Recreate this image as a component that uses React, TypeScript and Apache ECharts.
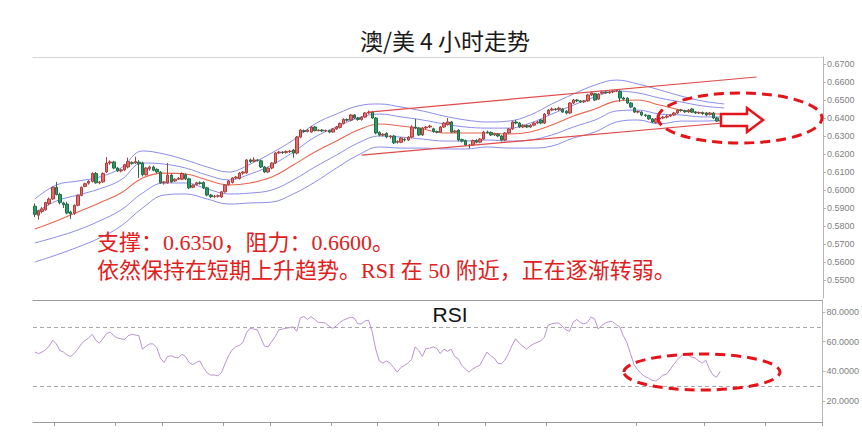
import React, { useEffect, useRef } from "react";
import * as echarts from "echarts";

const W = 862;
const H = 433;

const TITLE = "澳/美 4 小时走势";
const NOTE_1 = "支撑：0.6350，阻力：0.6600。";
const NOTE_2 = "依然保持在短期上升趋势。RSI 在 50 附近，正在逐渐转弱。";
const RSI_TITLE = "RSI";

const SLOT_COUNT = 220;
const CATEGORIES = Array.from({ length: SLOT_COUNT }, (_, i) => String(i));

// 4-hour candles: [open, close, low, high] in pips (price * 10000)
const CANDLES: number[][] = [
  [5910,5865,5850,5925],[5860,5885,5835,5890],[5880,5895,5870,5905],[5890,5930,5885,5935],[5925,5950,5915,5958],
  [5950,6015,5945,6020],[6015,5975,5970,6045],[5975,5930,5920,5985],[5928,5918,5900,5935],[5922,5872,5865,5935],
  [5878,5868,5840,5885],[5870,5915,5862,5920],[5915,5970,5910,5975],[5970,6015,5965,6020],[6020,6035,6015,6040],
  [6038,6048,6030,6055],[6048,6092,6042,6098],[6092,6040,6035,6100],[6040,6045,6032,6050],[6045,6092,6040,6098],
  [6100,6150,6095,6183],[6150,6156,6140,6165],[6156,6122,6115,6162],[6122,6106,6100,6128],[6106,6112,6098,6118],
  [6112,6140,6105,6145],[6128,6158,6120,6180],[6152,6148,6140,6160],[6150,6158,6145,6185],[6155,6145,6067,6165],
  [6150,6085,6075,6158],[6085,6122,6080,6128],[6118,6128,6108,6135],[6128,6110,6104,6135],[6115,6100,6094,6120],
  [6100,6040,6035,6105],[6040,6045,6030,6050],[6040,6083,6035,6150],[6083,6045,6040,6090],[6050,6060,6045,6065],
  [6060,6065,6055,6072],[6060,6092,6055,6098],[6085,6062,6055,6092],[6062,6012,6005,6068],[6015,6026,6010,6032],
  [6030,6040,6025,6045],[6040,6036,6030,6048],[6042,6012,6005,6048],[6012,5972,5965,6018],[5972,5963,5955,5978],
  [5963,5966,5956,5972],[5965,5968,5958,5975],[5962,5990,5955,5995],[5990,6028,5985,6032],[6030,6050,6025,6055],
  [6042,6067,6036,6072],[6067,6072,6060,6078],[6064,6094,6058,6100],[6094,6100,6085,6106],[6095,6167,6090,6172],
  [6167,6158,6150,6175],[6160,6167,6155,6182],[6167,6164,6158,6172],[6162,6128,6122,6168],[6128,6100,6094,6133],
  [6100,6122,6095,6127],[6122,6150,6115,6155],[6150,6206,6145,6210],[6206,6211,6200,6218],[6211,6208,6200,6216],
  [6208,6214,6202,6220],[6214,6216,6206,6222],[6222,6205,6180,6228],[6205,6294,6198,6300],[6294,6333,6288,6338],
  [6330,6325,6318,6336],[6325,6333,6320,6340],[6322,6350,6318,6356],[6350,6330,6325,6356],[6330,6333,6325,6338],
  [6333,6328,6322,6338],[6328,6330,6322,6336],[6330,6322,6315,6335],[6322,6339,6318,6344],[6339,6350,6334,6356],
  [6348,6370,6342,6375],[6370,6392,6365,6398],[6392,6388,6380,6398],[6388,6417,6382,6422],[6417,6400,6395,6422],
  [6400,6392,6385,6406],[6392,6405,6385,6410],[6405,6428,6400,6433],[6428,6433,6420,6442],[6433,6400,6395,6440],
  [6400,6317,6310,6405],[6320,6305,6298,6326],[6305,6310,6298,6316],[6315,6295,6288,6320],[6295,6300,6285,6306],
  [6300,6262,6255,6305],[6265,6270,6258,6276],[6265,6289,6260,6294],[6282,6278,6270,6288],[6278,6294,6272,6300],
  [6294,6350,6288,6360],[6350,6345,6338,6395],[6345,6306,6300,6350],[6306,6345,6300,6350],[6345,6350,6338,6356],
  [6350,6355,6344,6362],[6340,6325,6318,6346],[6325,6322,6315,6330],[6322,6350,6318,6356],[6350,6372,6345,6378],
  [6365,6378,6358,6400],[6378,6322,6316,6384],[6322,6328,6316,6334],[6333,6278,6270,6338],[6280,6272,6265,6286],
  [6275,6250,6244,6280],[6250,6245,6232,6256],[6250,6275,6244,6280],[6275,6266,6260,6282],[6266,6283,6260,6288],
  [6283,6322,6278,6328],[6322,6320,6314,6330],[6320,6306,6300,6326],[6306,6312,6300,6318],[6310,6300,6294,6316],
  [6300,6278,6270,6306],[6278,6317,6272,6322],[6317,6339,6312,6344],[6339,6378,6334,6384],[6378,6372,6365,6390],
  [6372,6350,6344,6378],[6350,6360,6344,6366],[6358,6350,6344,6364],[6350,6360,6344,6366],[6360,6372,6354,6378],
  [6372,6378,6366,6384],[6389,6372,6366,6395],[6372,6422,6366,6428],[6422,6444,6416,6450],[6444,6450,6438,6458],
  [6450,6447,6440,6456],[6447,6455,6440,6462],[6450,6433,6428,6456],[6438,6428,6420,6444],[6428,6483,6422,6488],
  [6483,6500,6478,6506],[6500,6495,6488,6506],[6495,6490,6484,6500],[6490,6495,6484,6500],[6495,6528,6490,6534],
  [6528,6540,6522,6546],[6535,6500,6494,6540],[6505,6533,6500,6538],[6538,6545,6532,6552],[6545,6540,6534,6550],
  [6540,6545,6534,6552],[6545,6550,6538,6556],[6550,6552,6544,6560],[6548,6511,6490,6555],[6511,6505,6498,6518],
  [6510,6483,6478,6516],[6483,6461,6455,6488],[6456,6433,6428,6462],[6433,6436,6426,6442],[6433,6417,6410,6438],
  [6417,6414,6406,6422],[6414,6395,6390,6418],[6395,6378,6372,6400],[6376,6394,6370,6400],[6394,6400,6388,6406],
  [6400,6405,6394,6412],[6405,6411,6398,6418],[6411,6417,6405,6422],[6417,6428,6410,6434],[6428,6444,6422,6450],
  [6444,6442,6435,6450],[6440,6435,6428,6446],[6435,6444,6428,6450],[6450,6433,6428,6456],[6433,6428,6422,6438],
  [6428,6430,6422,6436],[6430,6425,6418,6436],[6428,6417,6410,6434],[6420,6428,6414,6434],[6428,6400,6394,6434],
  [6400,6383,6378,6406],[6383,6385,6375,6392]
];

// Bollinger-style band lines, sampled at candle indices (pips)
const BAND_IDX = [0,6,12,18,24,30,36,42,48,54,60,66,72,78,84,90,96,102,108,114,120,126,132,138,144,150,156,162,168,174,180,186,192];
const BAND_U2 = [5950,6028,6050,6072,6122,6217,6200,6167,6128,6100,6144,6206,6278,6367,6422,6467,6478,6461,6439,6411,6389,6378,6383,6417,6478,6533,6583,6611,6589,6556,6522,6494,6478];
const BAND_U1 = [5872,5939,5972,6006,6056,6150,6144,6122,6083,6056,6089,6139,6211,6294,6350,6400,6422,6406,6389,6367,6350,6344,6344,6372,6422,6472,6517,6550,6539,6511,6489,6467,6456];
const BAND_MID = [5783,5828,5878,5928,5983,6067,6094,6089,6056,6028,6039,6072,6139,6211,6272,6333,6367,6356,6339,6317,6317,6317,6311,6322,6361,6411,6450,6494,6500,6472,6444,6428,6422];
const BAND_L1 = [5706,5739,5778,5828,5889,5983,6039,6039,6006,5978,5983,6000,6056,6128,6194,6261,6300,6294,6283,6272,6272,6278,6272,6278,6306,6350,6389,6439,6444,6422,6417,6406,6406];
const BAND_L2 = [5600,5639,5683,5733,5800,5900,5972,5978,5950,5922,5928,5933,5978,6044,6122,6194,6239,6233,6233,6228,6228,6239,6233,6233,6244,6289,6322,6378,6389,6367,6383,6383,6389];

// Channel trend lines: [candle index, price]
const TREND_UPPER = [[93, 0.6433], [201, 0.6628]];
const TREND_LOWER = [[91, 0.6194], [201, 0.6389]];

// RSI per candle
const RSI = [
  53,52,53,54.5,57,61,58.5,54,53,51,
  50,52,55,58.5,61,62.5,65,61,59,62,
  65.5,66.5,64,62.5,62,61.5,64,65,64.5,64,
  55,57,58.5,58.5,56,49,46,50,50.5,49.5,
  49,51.5,50,46,44.5,46,47,42.5,39,37.5,
  37.5,37,39,45,50.5,54.5,56.5,57.5,59.5,66,
  69,68.5,68,62.5,57,56.5,60,63.5,68,68.5,
  69,69.5,70,67,76,77,75,77,75,73,
  73,72.5,70.5,69,70.5,73,74.5,75.5,76.5,76,
  72,72,74,74.5,67,55,47,45.5,47,45.5,
  42.5,39.5,42.5,44,45.5,48,56.5,54,50,55.5,
  55.5,56.5,55.5,52,55,53.5,55,50,48.5,44,
  41.5,39.5,41.5,43,44,48.5,53,50.5,49,45.5,
  45,47.5,52,57.5,62,59,57,55,57,58.5,
  59.5,60.5,63,71,72,72.5,72.5,70.5,68,67,
  73,75,73,72,73,76.5,75.5,68.5,71,72.5,
  73.5,73.5,71.5,70,64,59.5,52,44.5,41,38.5,
  36.5,35.5,34,33.5,35,37.5,38,41,44.5,47.5,
  50,52,51,49.5,49,47,45.5,47.5,41.5,37.5,
  36,40
];
const RSI_LEVELS = [70, 30];
const TICK_IDX = [6, 23, 36, 53, 66, 83, 96, 113, 126, 143, 168, 187, 204];

const PRICE_MIN = 0.54;
const PRICE_MAX = 0.6739;
const RSI_MIN = 5.84;
const RSI_MAX = 88.1;

const RED = "#e5141b";

function buildOption(): any {
  const toPrice = (p: number) => p / 10000;
  const band = (arr: number[], color: string, width: number) => ({
    type: "line",
    xAxisIndex: 0,
    yAxisIndex: 0,
    data: BAND_IDX.map((x, k) => [x, toPrice(arr[k])]),
    smooth: 0.4,
    symbol: "none",
    silent: true,
    z: 1,
    lineStyle: { color, width },
  });
  const tickSet = new Set(TICK_IDX);
  const axisLabelBase = {
    color: "#808080",
    fontSize: 9,
    fontFamily: "Liberation Sans",
    margin: 4,
    showMinLabel: false,
    showMaxLabel: false,
    formatter: (v: number) => v.toFixed(4),
  };
  return {
    animation: false,
    backgroundColor: "#ffffff",
    grid: [
      { left: 33, top: 57, width: 790, height: 241 },
      { left: 33, top: 300, width: 790, height: 122 },
    ],
    xAxis: [
      { type: "category", gridIndex: 0, data: CATEGORIES, boundaryGap: true, show: false },
      {
        type: "category", gridIndex: 0, data: CATEGORIES, position: "top",
        axisLine: { show: true, lineStyle: { color: "#d6d6d6" } },
        axisTick: { show: false }, axisLabel: { show: false }, splitLine: { show: false },
      },
      {
        type: "category", gridIndex: 1, data: CATEGORIES, position: "bottom",
        axisLine: { show: true, lineStyle: { color: "#9a9a9a" } },
        axisTick: { show: true, length: 4, interval: (i: number) => tickSet.has(i), lineStyle: { color: "#9a9a9a" } },
        axisLabel: { show: false }, splitLine: { show: false },
      },
      {
        type: "category", gridIndex: 1, data: CATEGORIES, position: "top",
        axisLine: { show: true, lineStyle: { color: "#9a9a9a" } },
        axisTick: { show: false }, axisLabel: { show: false }, splitLine: { show: false },
      },
    ],
    yAxis: [
      {
        type: "value", gridIndex: 0, position: "right",
        min: PRICE_MIN, max: PRICE_MAX, interval: 0.01,
        axisLine: { show: true, lineStyle: { color: "#b5b5b5" } },
        axisTick: { show: true, length: 3, lineStyle: { color: "#b5b5b5" } },
        axisLabel: axisLabelBase,
        splitLine: { show: false },
      },
      {
        type: "value", gridIndex: 1, position: "right",
        min: RSI_MIN, max: RSI_MAX, splitNumber: 4,
        axisLine: { show: true, lineStyle: { color: "#b5b5b5" } },
        axisTick: { show: true, length: 3, lineStyle: { color: "#b5b5b5" } },
        axisLabel: axisLabelBase,
        splitLine: { show: false },
      },
    ],
    series: [
      band(BAND_U2, "#8c8ce8", 1),
      band(BAND_U1, "#8c8ce8", 1),
      band(BAND_MID, "#e8654f", 1.1),
      band(BAND_L1, "#8c8ce8", 1),
      band(BAND_L2, "#8c8ce8", 1),
      {
        type: "candlestick",
        xAxisIndex: 0,
        yAxisIndex: 0,
        z: 3,
        barWidth: 3,
        data: CANDLES.map((c) => c.map(toPrice)),
        itemStyle: {
          color: "#ea6868",
          color0: "#1f9f62",
          borderColor: "#a94040",
          borderColor0: "#2a6a4b",
          borderWidth: 1,
        },
        markLine: {
          silent: true,
          symbol: ["none", "none"],
          label: { show: false },
          lineStyle: { color: "#e24b4b", width: 1.2, type: "solid" },
          data: [
            [{ coord: TREND_UPPER[0] }, { coord: TREND_UPPER[1] }],
            [{ coord: TREND_LOWER[0] }, { coord: TREND_LOWER[1] }],
          ],
        },
      },
      {
        type: "line",
        xAxisIndex: 2,
        yAxisIndex: 1,
        data: RSI,
        symbol: "none",
        silent: true,
        lineStyle: { color: "#b993cf", width: 1 },
        markLine: {
          silent: true,
          symbol: ["none", "none"],
          label: { show: false },
          lineStyle: { color: "#a8a8a8", width: 1, type: [4, 3] },
          data: RSI_LEVELS.map((v) => ({ yAxis: v })),
        },
      },
    ],
    graphic: [
      {
        type: "text", x: 445, y: 40, z: 100,
        style: { text: TITLE, fill: "#1a1a1a", fontSize: 23, fontFamily: "'Noto Sans CJK SC'", align: "center", verticalAlign: "middle" },
      },
      {
        type: "text", x: 450, y: 314, z: 100,
        style: { text: RSI_TITLE, fill: "#111111", fontSize: 21, fontFamily: "'Liberation Sans'", align: "center", verticalAlign: "middle" },
      },
      {
        type: "text", x: 97, y: 242, z: 100,
        style: { text: NOTE_1, fill: "#e0201c", fontSize: 22, fontFamily: "'Liberation Serif', 'Noto Sans CJK SC'", align: "left", verticalAlign: "middle" },
      },
      {
        type: "text", x: 97, y: 270, z: 100,
        style: { text: NOTE_2, fill: "#e0201c", fontSize: 22, fontFamily: "'Liberation Serif', 'Noto Sans CJK SC'", align: "left", verticalAlign: "middle" },
      },
      {
        type: "ellipse", z: 100,
        shape: { cx: 740, cy: 118, rx: 82, ry: 25 },
        style: { fill: "none", stroke: RED, lineWidth: 3, lineDash: [10, 6] },
      },
      {
        type: "polygon", z: 101,
        shape: { points: [[721, 114], [747, 114], [747, 108], [763, 120], [747, 132], [747, 126], [721, 126]] },
        style: { fill: "#ffffff", stroke: RED, lineWidth: 2.5 },
      },
      {
        type: "ellipse", z: 100,
        shape: { cx: 702, cy: 372, rx: 78, ry: 18 },
        style: { fill: "none", stroke: RED, lineWidth: 3, lineDash: [10, 6] },
      },
    ],
  };
}

export default function App() {
  const ref = useRef<HTMLDivElement>(null);
  useEffect(() => {
    document.body.style.margin = "0";
    if (!ref.current) return;
    const chart = echarts.init(ref.current, undefined, { renderer: "svg", width: W, height: H });
    chart.setOption(buildOption());
    return () => chart.dispose();
  }, []);
  return <div ref={ref} style={{ width: W, height: H }} />;
}
